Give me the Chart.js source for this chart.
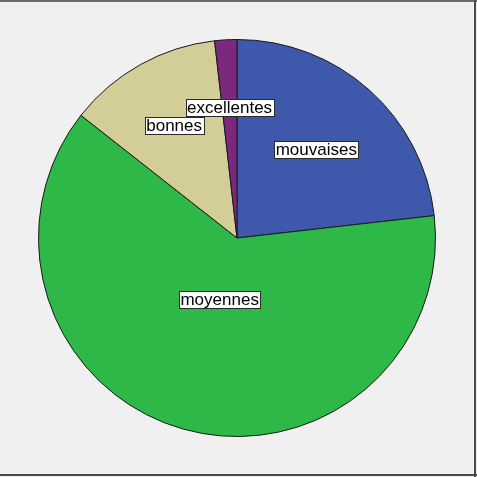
<!DOCTYPE html>
<html>
<head>
<meta charset="utf-8">
<script src="https://cdn.jsdelivr.net/npm/chart.js@4"></script>
<style>
  html, body { margin: 0; padding: 0; background: #f0f0f0; }
  #wrap { width: 477px; height: 477px; }
</style>
</head>
<body>
<div id="wrap"><canvas id="pie" width="477" height="477"></canvas></div>
<script>
// categories and shares (%)
const categories = ['mouvaises', 'moyennes', 'bonnes', 'excellentes'];
const shares = [23.2, 62.4, 12.6, 1.8];
const sliceColors = ['#3e58ac', '#2eb848', '#d3ce97', '#7c287d'];

// frame around the whole chart
const frame = {
    id: 'frame',
    beforeDraw(chart) {
        const c = chart.ctx;
        c.save();
        c.fillStyle = '#f0f0f0';
        c.fillRect(0, 0, chart.width, chart.height);
        c.fillStyle = '#6b6b6b';
        c.fillRect(0, 0, chart.width, 2);
        c.fillStyle = '#4a4a4a';
        c.fillRect(474, 0, 2, chart.height);
        c.fillRect(0, 474, chart.width, 2);
        c.restore();
    }
};

// boxed labels inside the slices
const boxLabels = {
    id: 'boxLabels',
    afterDatasetsDraw(chart, args, opts) {
        const c = chart.ctx;
        const meta = chart.getDatasetMeta(0);
        c.save();
        c.font = '17px "Liberation Sans", Arial, sans-serif';
        c.textAlign = 'center';
        c.textBaseline = 'middle';
        meta.data.forEach((arc, i) => {
            const mid = (arc.startAngle + arc.endAngle) / 2;
            const r = arc.outerRadius * opts.radius[i];
            const x = arc.x + Math.cos(mid) * r;
            const y = arc.y + Math.sin(mid) * r;
            const text = chart.data.labels[i];
            const w = Math.round(c.measureText(text).width + 3);
            const h = 17;
            const left = Math.round(x - w / 2);
            const top = Math.round(y - h / 2);
            c.fillStyle = '#ffffff';
            c.fillRect(left, top, w, h);
            c.strokeStyle = '#2a2a2a';
            c.lineWidth = 1;
            c.strokeRect(left + 0.5, top + 0.5, w, h);
            c.fillStyle = '#000000';
            c.fillText(text, x, y + 1);
        });
        c.restore();
    }
};

new Chart(document.getElementById('pie'), {
    type: 'pie',
    data: {
        labels: categories,
        datasets: [{
            data: shares,
            backgroundColor: sliceColors,
            borderColor: '#1a1a1a',
            borderWidth: 1
        }]
    },
    options: {
        responsive: false,
        animation: false,
        events: [],
        layout: { padding: { left: 38, right: 41, top: 39, bottom: 40 } },
        plugins: {
            legend: { display: false },
            tooltip: { enabled: false },
            boxLabels: { radius: [0.6, 0.32, 0.65, 0.66] }
        }
    },
    plugins: [frame, boxLabels]
});
</script>
</body>
</html>
